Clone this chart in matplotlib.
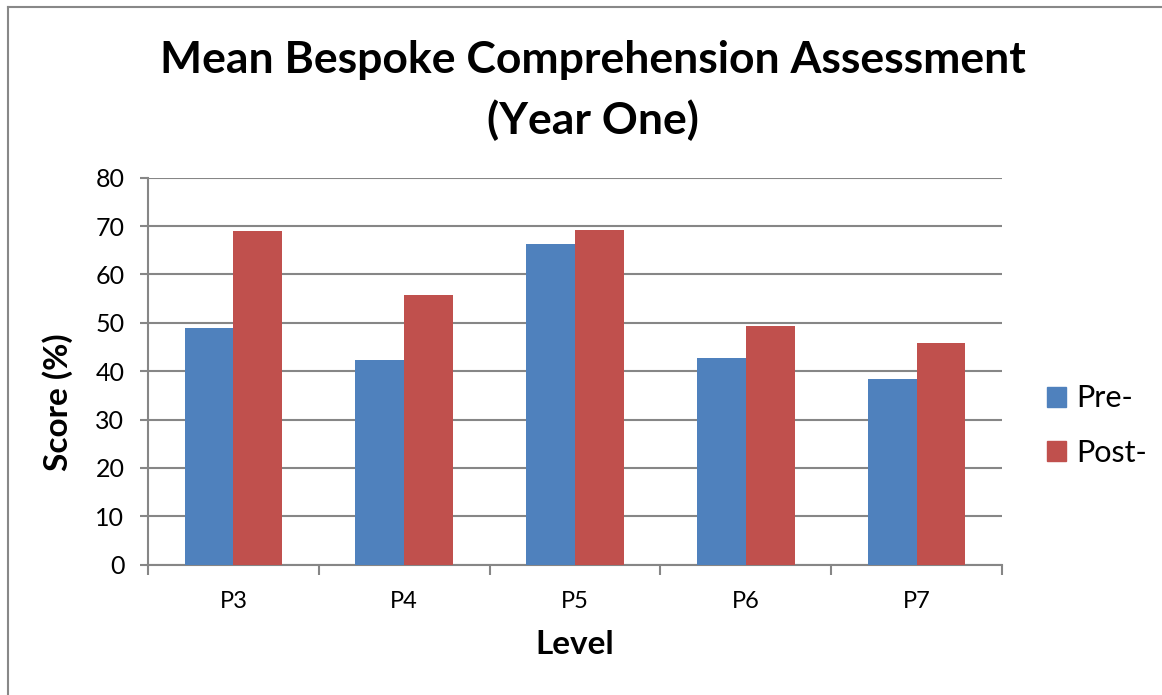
import numpy as np
import matplotlib
matplotlib.use("Agg")
import matplotlib.pyplot as plt
from matplotlib.lines import Line2D
from matplotlib.patches import Patch

plt.rcParams['font.family'] = ['Lato', 'DejaVu Sans']

# data
levels = ["P3", "P4", "P5", "P6", "P7"]
pre_scores = [49.0, 42.4, 66.3, 42.7, 38.3]
post_scores = [69.0, 55.8, 69.1, 49.3, 45.8]
series_names = ["Pre-", "Post-"]
yticks = [0, 10, 20, 30, 40, 50, 60, 70, 80]

blue = "#4F81BD"
red = "#C0504D"
grid_col = "#868686"

fig = plt.figure(figsize=(11.62, 6.95), dpi=100)
ax = fig.add_axes([148/1162, 1 - 564.7/695, (1002-148)/1162, (564.7-177.7)/695])

x = np.arange(len(levels))
w = 1/3.5
ax.bar(x - w/2, pre_scores, w, color=blue, zorder=3)
ax.bar(x + w/2, post_scores, w, color=red, zorder=3)

ax.set_xlim(-0.5, len(levels) - 0.5)
ax.set_ylim(0, 80)
ax.set_yticks(yticks)
ax.yaxis.grid(True, color=grid_col, linewidth=1.5, zorder=0)
ax.set_axisbelow(True)

ax.set_xticks(x)
ax.set_xticklabels(levels, fontsize=17)
ax.set_xticks(np.arange(len(levels) + 1) - 0.5, minor=True)
ax.tick_params(axis='x', which='major', length=0, pad=19)
ax.tick_params(axis='x', which='minor', length=7, width=1.5, color=grid_col, direction='out')
ax.tick_params(axis='y', length=6, width=1.5, color=grid_col, labelsize=18, pad=11)

for s in ['top', 'right']:
    ax.spines[s].set_visible(False)
for s in ['left', 'bottom']:
    ax.spines[s].set_color(grid_col)
    ax.spines[s].set_linewidth(1.5)

fig.text(0.51, 1 - 60/695, "Mean Bespoke Comprehension Assessment", ha='center', va='center',
         fontsize=32, fontweight='bold')
fig.text(0.51, 1 - 120/695, "(Year One)", ha='center', va='center',
         fontsize=32, fontweight='bold')
fig.text(575/1162, 1 - 645/695, "Level", ha='center', va='center', fontsize=24, fontweight='bold')
fig.text(58/1162, 1 - 402/695, "Score (%)", ha='center', va='center', rotation=90,
         fontsize=24, fontweight='bold')

handles = [Patch(color=blue), Patch(color=red)]
fig.legend(handles, series_names, loc='center left', bbox_to_anchor=(1047/1162, 1 - 425.5/695),
           frameon=False, fontsize=22, handlelength=0.62, handleheight=0.62,
           labelspacing=0.86, handletextpad=0.33, borderpad=0, borderaxespad=0)

# outer chart border
fig.add_artist(Line2D([8/1162, 8/1162], [0, 1 - 7/695], color="#888888", lw=1.5))
fig.add_artist(Line2D([8/1162, 1], [1 - 7/695, 1 - 7/695], color="#888888", lw=1.5))

fig.savefig("out.png", dpi=100)
